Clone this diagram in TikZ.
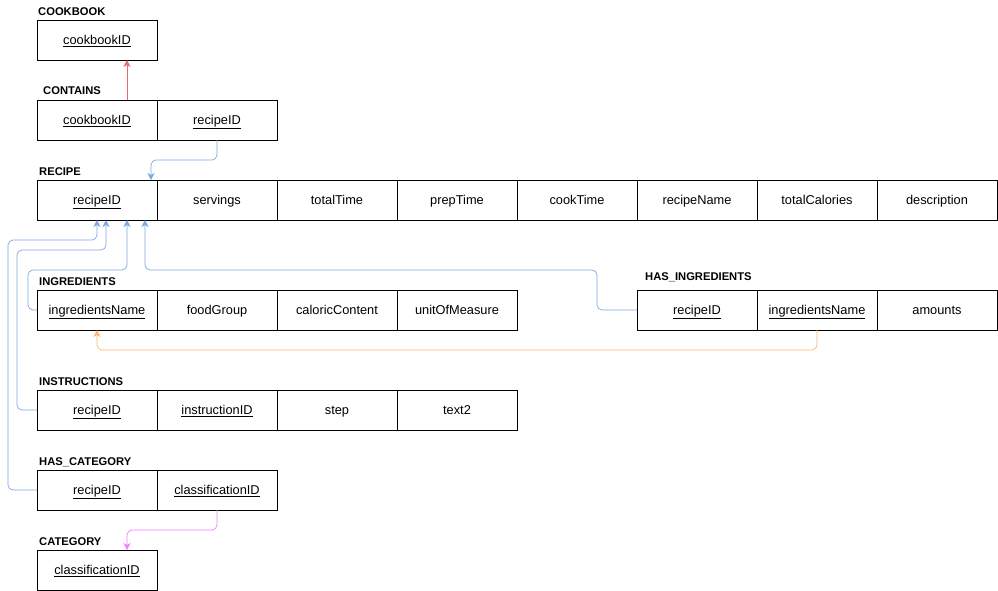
\documentclass[tikz,border=0pt]{standalone}
\usepackage{fontspec}
\setmainfont{Liberation Sans}
\usetikzlibrary{arrows.meta,positioning}

\definecolor{linkblue}{RGB}{126,166,224}
\definecolor{linkred}{RGB}{234,107,102}
\definecolor{linkorange}{RGB}{255,181,112}
\definecolor{linkpink}{RGB}{240,128,250}

\tikzset{
  attr/.style={draw, line width=0.8pt, minimum width=120pt, minimum height=40pt,
    inner sep=0pt, outer sep=0pt, text height=9pt, text depth=0pt,
    font=\fontsize{12.8}{14}\selectfont},
  tname/.style={anchor=base west, inner sep=0pt, font=\fontsize{11.2}{14}\selectfont\bfseries},
  fk/.style={line width=0.7pt, rounded corners=5pt, -{Stealth[length=7pt,width=7pt,inset=2pt]}}
}

\begin{document}
\begin{tikzpicture}[x=1pt,y=-1pt]
    \useasboundingbox (0,0) rectangle (998,591);
    % tables
    \node[attr] (cookbook) at (97,40) {\underline{cookbookID}};
    \node[attr] (contains1) at (97,120) {\underline{cookbookID}};
    \node[attr] (contains2) at (217,120) {\underline{recipeID}};
    \foreach \t [count=\i] in {\underline{recipeID},servings,totalTime,prepTime,
      cookTime,recipeName,totalCalories,description}
      \node[attr] (recipe\i) at ({97+120*(\i-1)},200) {\t};
    \foreach \t [count=\i] in {\underline{ingredientsName},foodGroup,
      caloricContent,unitOfMeasure}
      \node[attr] (ingr\i) at ({97+120*(\i-1)},310) {\t};
    \foreach \t [count=\i] in {\underline{recipeID},\underline{ingredientsName},amounts}
      \node[attr] (hasing\i) at ({697+120*(\i-1)},310) {\t};
    \foreach \t [count=\i] in {\underline{recipeID},\underline{instructionID},step,text2}
      \node[attr] (instr\i) at ({97+120*(\i-1)},410) {\t};
    \node[attr] (hascat1) at (97,490) {\underline{recipeID}};
    \node[attr] (hascat2) at (217,490) {\underline{classificationID}};
    \node[attr] (category) at (97,570) {\underline{classificationID}};
    % table names
    \node[tname] (tcookbook) at (38,16) {COOKBOOK};
    \node[tname] (tcontains) at (43,95) {CONTAINS};
    \node[tname] (trecipe) at (39,175) {RECIPE};
    \node[tname] (tingr) at (39,285) {INGREDIENTS};
    \node[tname] (thasing) at (645,280) {HAS\_INGREDIENTS};
    \node[tname] (tinstr) at (39,385) {INSTRUCTIONS};
    \node[tname] (thascat) at (39,465) {HAS\_CATEGORY};
    \node[tname] (tcategory) at (39,545) {CATEGORY};
    % links
    \draw[fk,linkred] ([xshift=30pt]contains1.north) -- ([xshift=30pt]cookbook.south);
    \draw[fk,linkblue] (contains2.south) -- ++(0,20) -| ([xshift=-6pt]recipe1.north east);
    \draw[fk,linkblue] (hascat1.west) -- ++(-29,0) |- ([yshift=-20pt]recipe1.south)
      -- (recipe1.south);
    \draw[fk,linkblue] (instr1.west) -- ++(-20,0) |- ([xshift=9pt,yshift=-30pt]recipe1.south)
      -- ([xshift=9pt]recipe1.south);
    \draw[fk,linkblue] (ingr1.west) -- ++(-9,0) |- ([xshift=30pt,yshift=-50pt]recipe1.south)
      -- ([xshift=30pt]recipe1.south);
    \draw[fk,linkblue] (hasing1.west) -- ++(-40,0) |- ([xshift=48pt,yshift=-50pt]recipe1.south)
      -- ([xshift=48pt]recipe1.south);
    \draw[fk,linkorange] (hasing2.south) -- ++(0,20) -| (ingr1.south);
    \draw[fk,linkpink] (hascat2.south) -- ++(0,20) -| ([xshift=30pt]category.north);
\end{tikzpicture}
\end{document}
